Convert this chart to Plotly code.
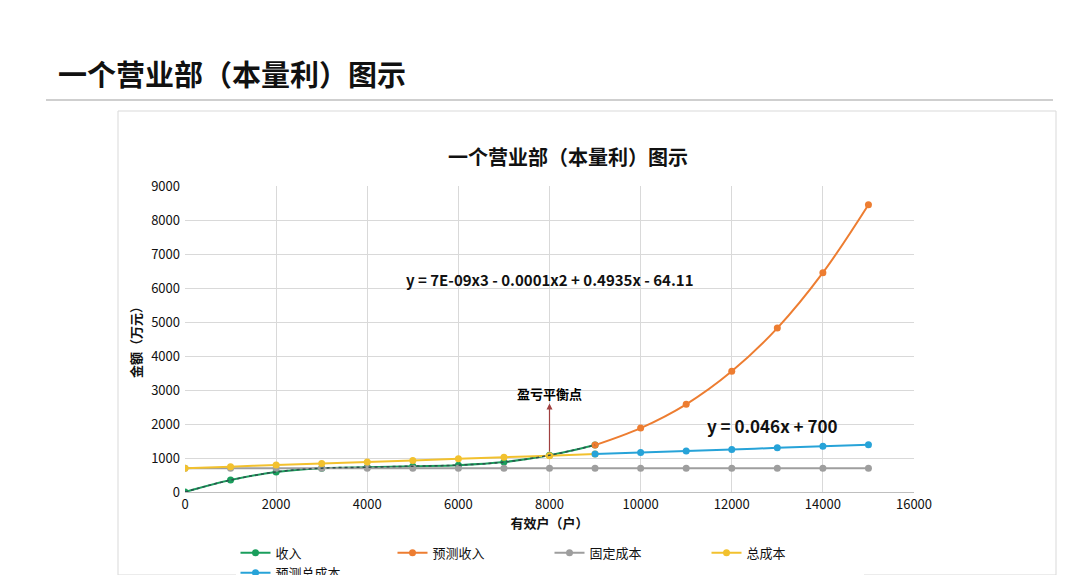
import plotly.graph_objects as go

x_actual = [0, 1000, 2000, 3000, 4000, 5000, 6000, 7000, 8000, 9000]
x_pred = [9000, 10000, 11000, 12000, 13000, 14000, 15000]
x_all = list(range(0, 16000, 1000))

revenue = [0, 350, 590, 700, 730, 760, 790, 880, 1080, 1380]
pred_revenue = [1380, 1880, 2580, 3550, 4820, 6450, 8450]
fixed_cost = [700] * 16
total_cost = [700, 746, 792, 838, 884, 930, 976, 1022, 1068, 1114]
pred_total_cost = [1114, 1160, 1206, 1252, 1298, 1344, 1390]

font = "Noto Sans CJK SC"
fig = go.Figure()

def add(name, x, y, color, width=2):
    fig.add_trace(go.Scatter(x=x, y=y, name=name, mode="lines+markers",
                             line=dict(color=color, width=width, shape="spline"),
                             marker=dict(color=color, size=7)))

add("收入", x_actual, revenue, "#1a9e5c")
add("预测收入", x_pred, pred_revenue, "#ed7d31")
add("固定成本", x_all, fixed_cost, "#9e9e9e")
add("总成本", x_actual, total_cost, "#f2c12e")
add("预测总成本", x_pred, pred_total_cost, "#27a3d8")
# polynomial trendline (dotted) over revenue
fig.add_trace(go.Scatter(x=x_actual, y=revenue, mode="lines", showlegend=False,
                         line=dict(color="#2f4f4f", width=1.5, dash="dot", shape="spline"),
                         hoverinfo="skip"))

# arrow pointing up
fig.add_annotation(x=8000, y=2600, ax=8000, ay=1150, xref="x", yref="y", axref="x", ayref="y",
                   showarrow=True, arrowhead=2, arrowcolor="#a04040", arrowwidth=1.2, text="")
fig.add_annotation(x=8000, y=2900, text="<b>盈亏平衡点</b>", showarrow=False,
                   font=dict(size=13, color="#000", family=font))
fig.add_annotation(x=8000, y=6250, text="<b>y = 7E-09x3 - 0.0001x2 + 0.4935x - 64.11</b>",
                   showarrow=False, font=dict(size=15, color="#111", family=font))
fig.add_annotation(x=12900, y=1950, text="<b>y = 0.046x + 700</b>",
                   showarrow=False, font=dict(size=17, color="#111", family=font))

fig.add_annotation(x=48, y=65, xref="paper", yref="paper", text="<b>一个营业部（本量利）图示</b>",
                   showarrow=False, xanchor="left", yanchor="middle",
                   font=dict(size=29, color="#111", family=font))
fig.add_annotation(x=560, y=132, xref="paper", yref="paper", text="<b>一个营业部（本量利）图示</b>",
                   showarrow=False, font=dict(size=20, color="#111", family=font))

fig.update_layout(
    width=1080, height=575,
    margin=dict(l=177, r=174, t=178, b=91, autoexpand=False),
    paper_bgcolor="white", plot_bgcolor="white",
    font=dict(family=font, size=13, color="#111"),
    legend=dict(orientation="h", x=0.5, xanchor="center", y=-0.15, yanchor="top",
                font=dict(size=13), entrywidth=112, entrywidthmode="pixels"),
    xaxis=dict(range=[0, 16000], dtick=2000, tickformat="d", showgrid=True, gridcolor="#d9d9d9",
               linecolor="#bfbfbf", zeroline=False, tickfont=dict(size=13), automargin=False,
               title=dict(text="<b>有效户（户）</b>", font=dict(size=13), standoff=4)),
    yaxis=dict(range=[0, 9000], dtick=1000, showgrid=True, gridcolor="#d9d9d9",
               zeroline=False, tickfont=dict(size=13), automargin=False, ticklabelstandoff=4,
               title=dict(text="<b>金额（万元）</b>", font=dict(size=13), standoff=6)),
)
W, H = 1080, 575
pw, ph = W - 177 - 174, H - 178 - 91
def px(x): return (x - 177) / pw
def py(y): return (H - 91 - y) / ph
for a in fig.layout.annotations:
    if a.xref == "paper":
        a.x = px(a.x)
        a.y = py(a.y)
fig.add_shape(type="rect", xref="paper", yref="paper", x0=px(110), x1=px(1048), y0=py(567), y1=py(103),
              line=dict(color="#d9d9d9", width=1), layer="below")
fig.add_shape(type="line", xref="paper", yref="paper", x0=px(38), x1=px(1045), y0=py(92), y1=py(92),
              line=dict(color="#a0a0a0", width=1.2))
fig.write_html("out.html")
